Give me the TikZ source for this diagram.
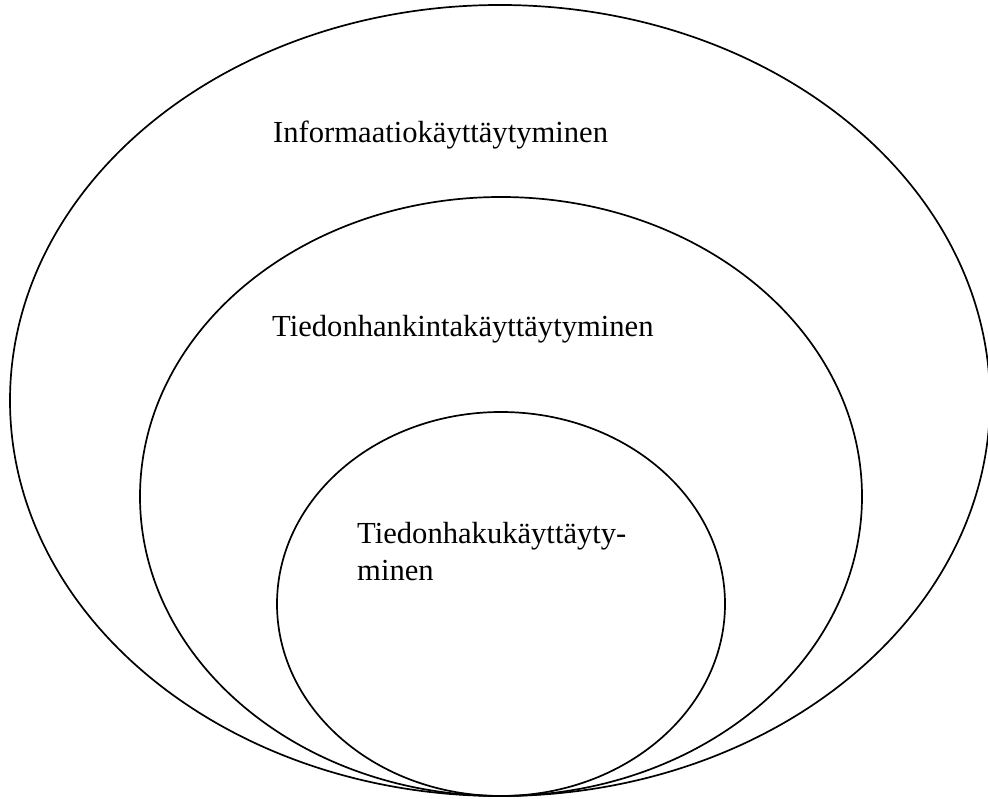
\documentclass[tikz,border=0pt]{standalone}
\usepackage{fontspec}
\setmainfont{Liberation Serif}
\begin{document}
\begin{tikzpicture}[x=1pt,y=1pt,
  ring/.style={draw=black,line width=1.7pt},
  lbl/.style={inner sep=0pt,anchor=base west,align=left,font=\fontsize{30.6}{37}\selectfont}]
\useasboundingbox (0,0) rectangle (988,798);
\draw[ring] (500,397.5) ellipse [x radius=490, y radius=395.5];
\draw[ring] (501,301.5) ellipse [x radius=361, y radius=299.5];
\draw[ring] (501,194) ellipse [x radius=224, y radius=192];
\node[lbl] (info) at (273,655) {Informaatiokäyttäytyminen};
\node[lbl] (hank) at (272,461) {Tiedonhankintakäyttäytyminen};
\node[lbl] (haku) at (357,217) {Tiedonhakukäyttäyty-\\minen};
\end{tikzpicture}
\end{document}
